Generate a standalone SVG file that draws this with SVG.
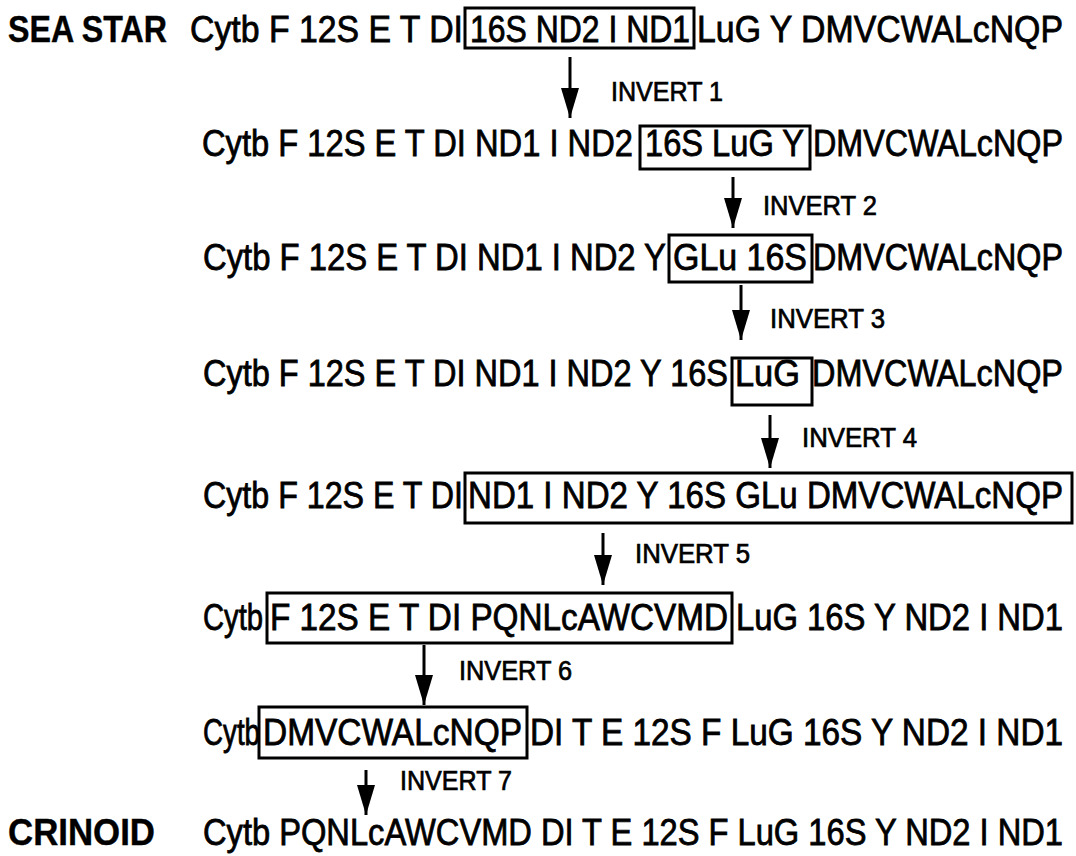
<svg xmlns="http://www.w3.org/2000/svg" width="1076" height="856" viewBox="0 0 1076 856">
<style>
.t{font-family:"Liberation Sans",Arial,Helvetica,sans-serif;font-size:37px;fill:#000;stroke:#000;stroke-width:0.8}
.b{font-weight:bold;stroke-width:0.4}
.l{font-family:"Liberation Sans",Arial,Helvetica,sans-serif;font-size:27px;fill:#000;stroke:#000;stroke-width:0.7}
.box{fill:none;stroke:#000;stroke-width:3}
.ar{stroke:#000;stroke-width:3;fill:none}
</style>
<defs>
<marker id="ah" viewBox="0 0 30 18" refX="30" refY="9" markerWidth="30" markerHeight="18" markerUnits="userSpaceOnUse" orient="auto">
<path d="M0,0 L30,9 L0,18 z" fill="#000"/>
</marker>
</defs>
<rect width="1076" height="856" fill="#fff"/>

<g id="row1">
<text class="t b" x="8" y="42" textLength="159" lengthAdjust="spacingAndGlyphs">SEA STAR</text>
<text class="t" x="190" y="42" textLength="273" lengthAdjust="spacingAndGlyphs">Cytb F 12S E T DI</text>
<rect class="box" x="465" y="8" width="229" height="40"/>
<text class="t" x="470" y="42" textLength="220" lengthAdjust="spacingAndGlyphs">16S ND2 I ND1</text>
<text class="t" x="697" y="42" textLength="366" lengthAdjust="spacingAndGlyphs">LuG Y DMVCWALcNQP</text>
</g>

<g id="row2">
<text class="t" x="202" y="156" textLength="431" lengthAdjust="spacingAndGlyphs">Cytb F 12S E T DI ND1 I ND2</text>
<rect class="box" x="640" y="126" width="170" height="43"/>
<text class="t" x="645" y="156" textLength="159" lengthAdjust="spacingAndGlyphs">16S LuG Y</text>
<text class="t" x="813" y="156" textLength="250" lengthAdjust="spacingAndGlyphs">DMVCWALcNQP</text>
</g>

<g id="row3">
<text class="t" x="203" y="270" textLength="463" lengthAdjust="spacingAndGlyphs">Cytb F 12S E T DI ND1 I ND2 Y</text>
<rect class="box" x="669" y="235" width="143" height="47"/>
<text class="t" x="673" y="270" textLength="134" lengthAdjust="spacingAndGlyphs">GLu 16S</text>
<text class="t" x="813" y="270" textLength="250" lengthAdjust="spacingAndGlyphs">DMVCWALcNQP</text>
</g>

<g id="row4">
<text class="t" x="203" y="386" textLength="525" lengthAdjust="spacingAndGlyphs">Cytb F 12S E T DI ND1 I ND2 Y 16S</text>
<rect class="box" x="732" y="358" width="80" height="47"/>
<text class="t" x="735" y="386" textLength="65" lengthAdjust="spacingAndGlyphs">LuG</text>
<text class="t" x="812" y="386" textLength="251" lengthAdjust="spacingAndGlyphs">DMVCWALcNQP</text>
</g>

<g id="row5">
<text class="t" x="203" y="508" textLength="260" lengthAdjust="spacingAndGlyphs">Cytb F 12S E T DI</text>
<rect class="box" x="465" y="473" width="607" height="50"/>
<text class="t" x="468" y="508" textLength="595" lengthAdjust="spacingAndGlyphs">ND1 I ND2 Y 16S GLu DMVCWALcNQP</text>
</g>

<g id="row6">
<text class="t" x="203" y="630" textLength="60" lengthAdjust="spacingAndGlyphs">Cytb</text>
<rect class="box" x="267" y="593" width="465" height="50"/>
<text class="t" x="270" y="630" textLength="458" lengthAdjust="spacingAndGlyphs">F 12S E T DI PQNLcAWCVMD</text>
<text class="t" x="736" y="630" textLength="327" lengthAdjust="spacingAndGlyphs">LuG 16S Y ND2 I ND1</text>
</g>

<g id="row7">
<text class="t" x="203" y="745" textLength="57" lengthAdjust="spacingAndGlyphs">Cytb</text>
<rect class="box" x="259" y="707" width="268" height="51"/>
<text class="t" x="263" y="745" textLength="259" lengthAdjust="spacingAndGlyphs">DMVCWALcNQP</text>
<text class="t" x="530" y="745" textLength="533" lengthAdjust="spacingAndGlyphs">DI T E 12S F LuG 16S Y ND2 I ND1</text>
</g>

<g id="row8">
<text class="t b" x="8" y="845" textLength="147" lengthAdjust="spacingAndGlyphs">CRINOID</text>
<text class="t" x="203" y="845" textLength="860" lengthAdjust="spacingAndGlyphs">Cytb PQNLcAWCVMD DI T E 12S F LuG 16S Y ND2 I ND1</text>
</g>

<g id="connectors">
<line class="ar" x1="570" y1="57" x2="570" y2="118" marker-end="url(#ah)"/>
<text class="l" x="611" y="101" textLength="112" lengthAdjust="spacingAndGlyphs">INVERT 1</text>
<line class="ar" x1="733" y1="177" x2="733" y2="228" marker-end="url(#ah)"/>
<text class="l" x="763" y="215" textLength="114" lengthAdjust="spacingAndGlyphs">INVERT 2</text>
<line class="ar" x1="741" y1="285" x2="741" y2="340" marker-end="url(#ah)"/>
<text class="l" x="770" y="328" textLength="115" lengthAdjust="spacingAndGlyphs">INVERT 3</text>
<line class="ar" x1="770" y1="415" x2="770" y2="468" marker-end="url(#ah)"/>
<text class="l" x="802" y="447" textLength="115" lengthAdjust="spacingAndGlyphs">INVERT 4</text>
<line class="ar" x1="603" y1="533" x2="603" y2="585" marker-end="url(#ah)"/>
<text class="l" x="635" y="563" textLength="115" lengthAdjust="spacingAndGlyphs">INVERT 5</text>
<line class="ar" x1="424" y1="645" x2="424" y2="705" marker-end="url(#ah)"/>
<text class="l" x="459" y="680" textLength="113" lengthAdjust="spacingAndGlyphs">INVERT 6</text>
<line class="ar" x1="366" y1="770" x2="366" y2="815" marker-end="url(#ah)"/>
<text class="l" x="400" y="790" textLength="112" lengthAdjust="spacingAndGlyphs">INVERT 7</text>
</g>
</svg>
